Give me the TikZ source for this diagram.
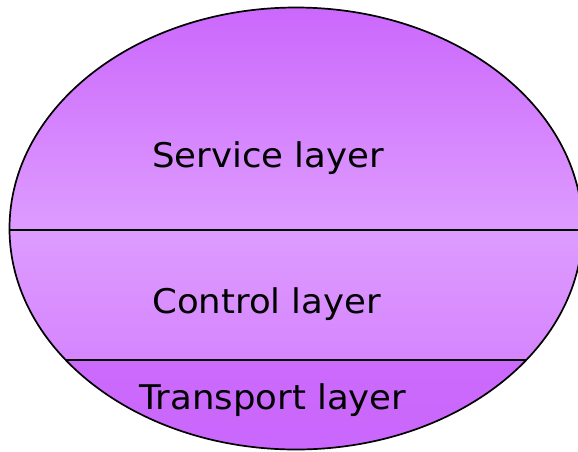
\documentclass[tikz,border=0pt]{standalone}
\usepackage{fontspec}
\setmainfont{DejaVu Sans}
\definecolor{violetdeep}{HTML}{CA66FC}
\definecolor{violetpale}{HTML}{DE9CFF}
\definecolor{violetmid}{HTML}{D585FD}
\begin{document}
\begin{tikzpicture}[x=1pt,y=-1pt,
  layerlabel/.style={anchor=base west, inner sep=0pt, text=black,
    font=\fontsize{34}{40}\selectfont, xscale=1.045},
  divider/.style={draw=black, line width=1.6pt},
  rim/.style={draw=black, line width=1.7pt}]
\useasboundingbox (0,0) rectangle (578,451);
% shell of the layered model
\begin{scope}
  \clip (296,228.5) ellipse [x radius=286.5, y radius=221];
  \shade[top color=violetdeep, bottom color=violetpale] (0,0) rectangle (600,230);
  \shade[top color=violetpale, bottom color=violetmid] (0,230) rectangle (600,360);
  \shade[top color=violetdeep!92!violetpale, bottom color=violetdeep] (0,360) rectangle (600,460);
  \draw[divider] (0,230) -- (600,230);
  \draw[divider] (0,360) -- (600,360);
\end{scope}
\draw[rim] (296,228.5) ellipse [x radius=286.5, y radius=221];
% layer names
\node[layerlabel] (service)   at (152,167) {Service layer};
\node[layerlabel] (control)   at (152,313) {Control layer};
\node[layerlabel] (transport) at (139,409) {Transport layer};
\end{tikzpicture}
\end{document}
